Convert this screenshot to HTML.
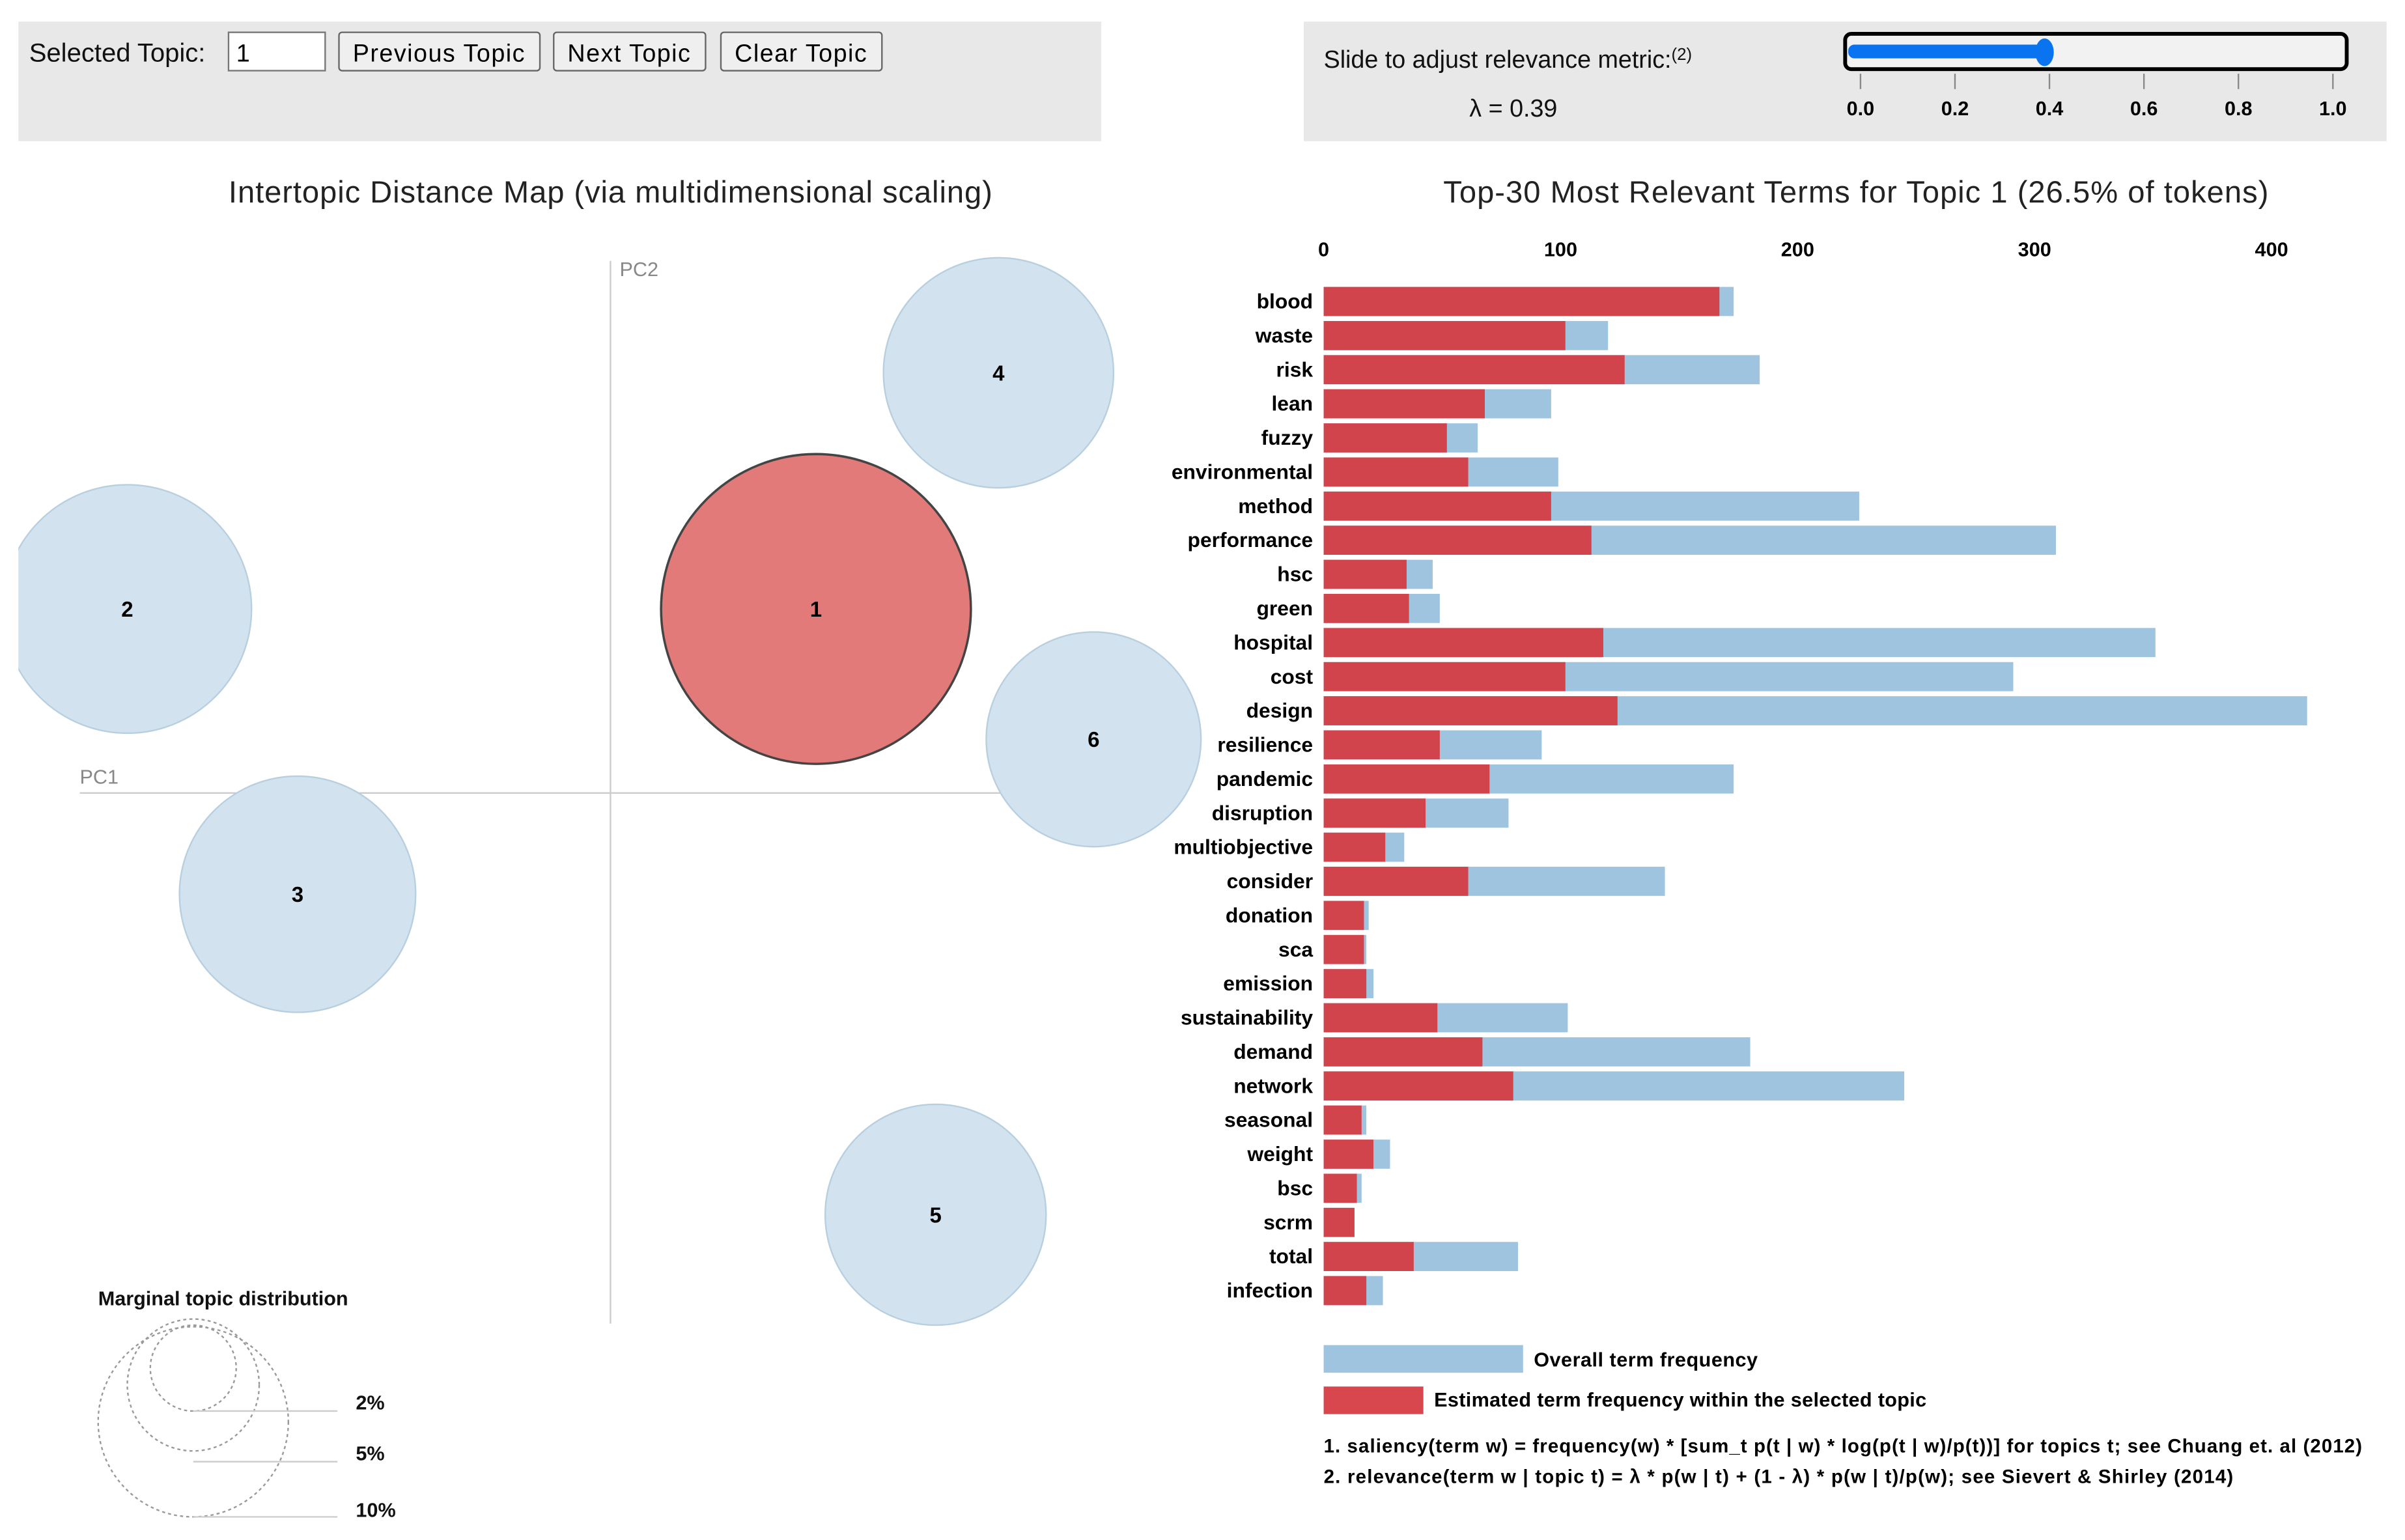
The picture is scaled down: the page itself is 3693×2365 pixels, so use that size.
<!DOCTYPE html>
<html><head><meta charset="utf-8"><style>
html,body{margin:0;padding:0;background:#fff;width:3693px;height:2365px;overflow:hidden}
svg{display:block;font-family:"Liberation Sans",Arial,sans-serif}
</style></head><body>
<svg id="root" width="3693" height="2365" viewBox="0 0 1568 1004" xmlns="http://www.w3.org/2000/svg">
<defs><clipPath id="mapclip"><rect x="12" y="140" width="780" height="860"/></clipPath></defs>
<g>
<rect x="12" y="14" width="706" height="78" fill="#e8e8e8"/>
<text x="19" y="40" font-size="17" fill="#111">Selected Topic:</text>
<rect x="149" y="21" width="63" height="25" fill="#fff" stroke="#777"/>
<text x="154" y="40" font-size="16">1</text>
<g><rect x="221" y="21" width="131" height="25" rx="2" fill="#efefef" stroke="#666"/><text x="286" y="40" font-size="16" text-anchor="middle" textLength="112">Previous Topic</text></g>
<g><rect x="361" y="21" width="99" height="25" rx="2" fill="#efefef" stroke="#666"/><text x="410" y="40" font-size="16" text-anchor="middle" textLength="80">Next Topic</text></g>
<g><rect x="470" y="21" width="105" height="25" rx="2" fill="#efefef" stroke="#666"/><text x="522" y="40" font-size="16" text-anchor="middle" textLength="86">Clear Topic</text></g>
</g>
<g>
<rect x="850" y="14" width="706" height="78" fill="#e8e8e8"/>
<text x="863" y="44" font-size="16" fill="#111">Slide to adjust relevance metric:<tspan font-size="11" dy="-5">(2)</tspan></text>
<text x="958" y="76" font-size="16" fill="#111">λ = 0.39</text>
<g>
<rect x="1203" y="22" width="327" height="23" rx="4" fill="#f2f2f2" stroke="#000" stroke-width="2.5"/>
<rect x="1205" y="29" width="128" height="9" rx="4" fill="#0a74f0"/>
<ellipse cx="1333" cy="34" rx="6" ry="9" fill="#0a74f0"/>
</g>
<g id="sliderTicks" font-size="13" font-weight="bold" text-anchor="middle"></g>
</g>
<text x="398" y="132" font-size="20" text-anchor="middle" fill="#222" textLength="498">Intertopic Distance Map (via multidimensional scaling)</text>
<text x="1210" y="132" font-size="20" text-anchor="middle" fill="#222" textLength="538">Top-30 Most Relevant Terms for Topic 1 (26.5% of tokens)</text>
<g clip-path="url(#mapclip)">
<line x1="398" y1="170" x2="398" y2="863" stroke="#ccc"/>
<line x1="52" y1="517" x2="745" y2="517" stroke="#ccc"/>
<text x="404" y="180" font-size="13" fill="#888">PC2</text>
<text x="52" y="511" font-size="13" fill="#888">PC1</text>
<g id="circles"></g>
</g>
<g fill="none" stroke="#999" stroke-dasharray="2,2">
<text x="64" y="851" font-size="13" font-weight="bold" fill="#111" stroke="none" textLength="163">Marginal topic distribution</text>
<circle cx="126" cy="927" r="62"/>
<circle cx="126" cy="903" r="43"/>
<circle cx="126" cy="892" r="28"/>
<line x1="126" y1="920" x2="220" y2="920" stroke-dasharray="none" stroke="#ccc"/>
<line x1="126" y1="953" x2="220" y2="953" stroke-dasharray="none" stroke="#ccc"/>
<line x1="126" y1="989" x2="220" y2="989" stroke-dasharray="none" stroke="#ccc"/>
<text x="232" y="919" font-size="13" font-weight="bold" fill="#111" stroke="none">2%</text>
<text x="232" y="952" font-size="13" font-weight="bold" fill="#111" stroke="none">5%</text>
<text x="232" y="989" font-size="13" font-weight="bold" fill="#111" stroke="none">10%</text>
</g>
<g id="bars"></g>
<g font-weight="bold">
<rect x="863" y="877" width="130" height="18" fill="#9ec4e0"/>
<text x="1000" y="891" font-size="13" textLength="146">Overall term frequency</text>
<rect x="863" y="904" width="65" height="18" fill="#d9474e"/>
<text x="935" y="917" font-size="13" textLength="321">Estimated term frequency within the selected topic</text>
<text x="863" y="947" font-size="12.5" textLength="677">1. saliency(term w) = frequency(w) * [sum_t p(t | w) * log(p(t | w)/p(t))] for topics t; see Chuang et. al (2012)</text>
<text x="863" y="967" font-size="12.5" textLength="593">2. relevance(term w | topic t) = λ * p(w | t) + (1 - λ) * p(w | t)/p(w); see Sievert &amp; Shirley (2014)</text>
</g>
</svg>
<script>
const terms=["blood","waste","risk","lean","fuzzy","environmental","method","performance","hsc","green","hospital","cost","design","resilience","pandemic","disruption","multiobjective","consider","donation","sca","emission","sustainability","demand","network","seasonal","weight","bsc","scrm","total","infection"];
const overallFreq=[173,120,184,96,65,99,226,309,46,49,351,291,415,92,173,78,34,144,19,18,21,103,180,245,18,28,16,13,82,25];
const topicFreq=[167,102,127,68,52,61,96,113,35,36,118,102,124,49,70,43,26,61,17,17,18,48,67,80,16,21,14,13,38,18];
const xTicks=[0,100,200,300,400];
const sliderTickLabels=["0.0","0.2","0.4","0.6","0.8","1.0"];
const topicIds=["1","2","3","4","5","6"];
const topicX=[532,83,194,651,610,713];
const topicY=[397,397,583,243,792,482];
const topicR=[101,81,77,75,72,70];
const NS="http://www.w3.org/2000/svg";
function mk(t,a,p){const e=document.createElementNS(NS,t);for(const k in a)e.setAttribute(k,a[k]);p.appendChild(e);return e;}
const x=v=>863+v*1.545;
const y=i=>196+i*22.24;
const bars=document.getElementById('bars');
xTicks.forEach(t=>{const e=mk('text',{x:x(t),y:167,'font-size':13,'font-weight':'bold','text-anchor':'middle'},bars);e.textContent=t;

});
terms.forEach((t,i)=>{
const b=mk('rect',{x:x(0),y:y(i)-9,width:x(overallFreq[i])-x(0),height:19,fill:'#9ec4e0'},bars);


const r=mk('rect',{x:x(0),y:y(i)-9,width:x(topicFreq[i])-x(0),height:19,fill:'#d1444c'},bars);


const l=mk('text',{x:856,y:y(i)+5,'font-size':13.5,'font-weight':'bold','text-anchor':'end'},bars);l.textContent=t;


});
const st=document.getElementById('sliderTicks');
sliderTickLabels.forEach((s,i)=>{const xx=1213+i*61.6;
mk('line',{x1:xx,y1:48,x2:xx,y2:58,stroke:'#888'},st);
const e=mk('text',{x:xx,y:75},st);e.textContent=s;

});
const cg=document.getElementById('circles');
topicIds.forEach((id,i)=>{const sel=i===0;
const c=mk('circle',{cx:topicX[i],cy:topicY[i],r:topicR[i],fill:sel?'#e27a7a':'#d2e2ee',stroke:sel?'#444':'#b8cfdf','stroke-width':sel?1.5:1},cg);


const t=mk('text',{x:topicX[i],y:topicY[i]+5,'font-size':14,'font-weight':'bold','text-anchor':'middle'},cg);t.textContent=id;

});
</script>
</body></html>
